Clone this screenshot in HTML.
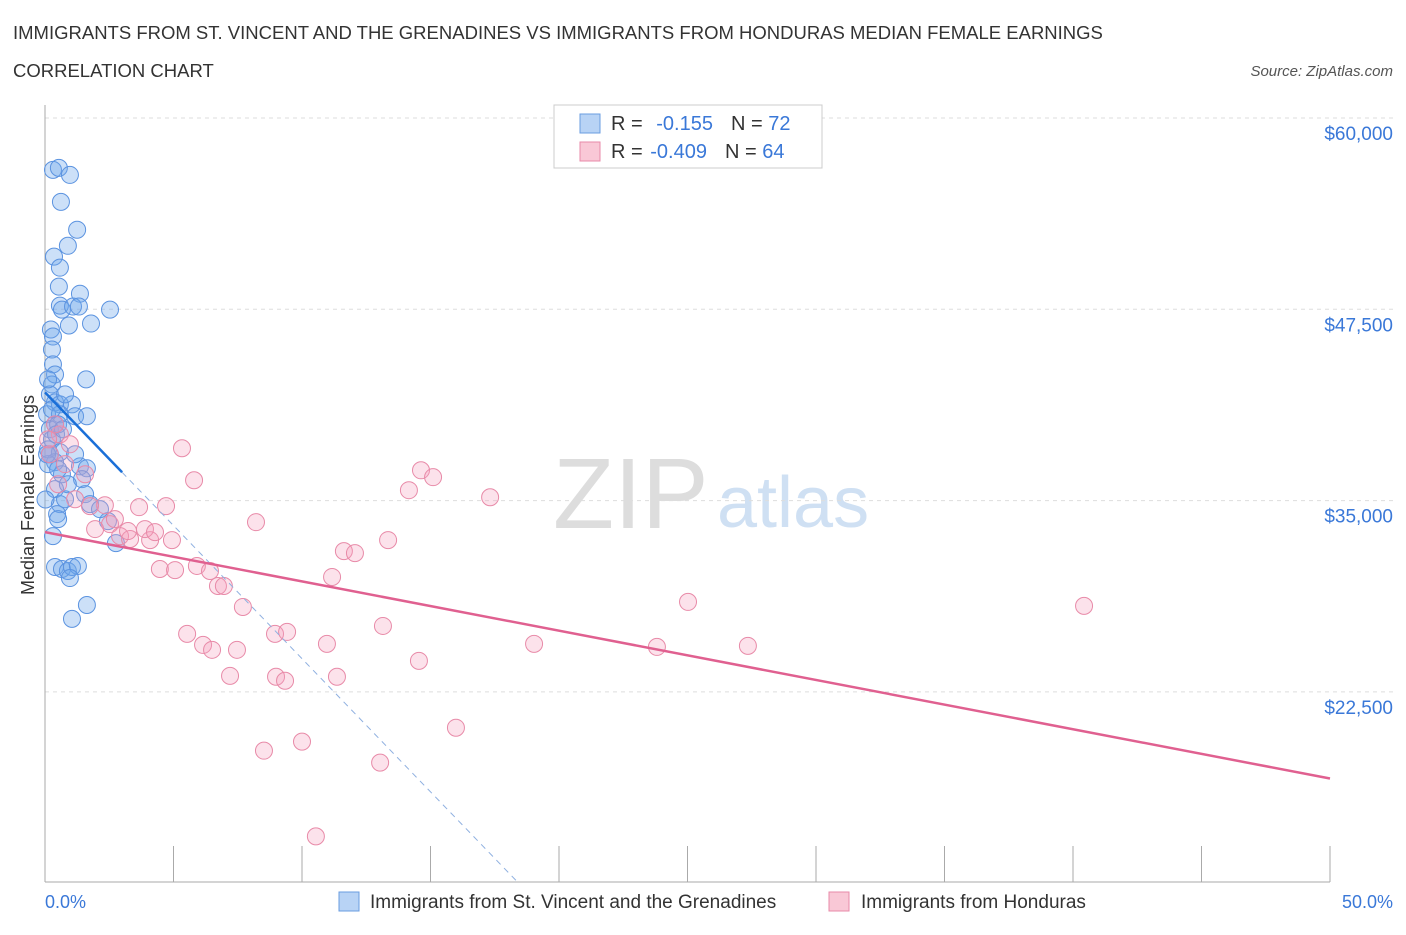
<!DOCTYPE html>
<html><head><meta charset="utf-8"><style>
body{margin:0;background:#fff;font-family:"Liberation Sans",sans-serif}
svg text{font-family:"Liberation Sans",sans-serif}
</style></head><body>
<svg width="1406" height="930" viewBox="0 0 1406 930">
<text x="13" y="39" font-size="18.5" fill="#333">IMMIGRANTS FROM ST. VINCENT AND THE GRENADINES VS IMMIGRANTS FROM HONDURAS MEDIAN FEMALE EARNINGS</text>
<text x="13" y="77" font-size="18.5" fill="#333">CORRELATION CHART</text>
<text x="1393" y="76" font-size="15" fill="#555" text-anchor="end" font-style="italic">Source: ZipAtlas.com</text>
<g>
<text x="553" y="528" font-size="100" fill="#ddd" font-family="Liberation Serif">ZIP</text>
<text x="717" y="527" font-size="72" fill="#cfe0f3">atlas</text>
</g>
<g id="grid"></g>
<g id="axes"></g>
<g id="marks"></g>
<g>
<rect x="554" y="105" width="268" height="63" fill="#fff" stroke="#ccc"/>
<rect x="580" y="114" width="20" height="19" fill="#b8d3f5" stroke="#6a9de0"/>
<text x="611" y="130" font-size="20" fill="#333">R = <tspan fill="#3a78d8" dx="8">-0.155</tspan><tspan dx="18" fill="#333">N = </tspan><tspan fill="#3a78d8">72</tspan></text>
<rect x="580" y="142" width="20" height="19" fill="#f9c8d6" stroke="#e88aa8"/>
<text x="611" y="158" font-size="20" fill="#333">R = <tspan fill="#3a78d8" dx="2">-0.409</tspan><tspan dx="18" fill="#333">N = </tspan><tspan fill="#3a78d8">64</tspan></text>
</g>
<text transform="translate(34,495) rotate(-90)" font-size="18" fill="#333" text-anchor="middle">Median Female Earnings</text>
<text x="45" y="908" font-size="18" fill="#3a78d8">0.0%</text>
<text x="1393" y="908" font-size="18" fill="#3a78d8" text-anchor="end">50.0%</text>
<g>
<rect x="339" y="892" width="20" height="19" fill="#b8d3f5" stroke="#6a9de0"/>
<text x="370" y="908" font-size="19" fill="#333">Immigrants from St. Vincent and the Grenadines</text>
<rect x="829" y="892" width="20" height="19" fill="#f9c8d6" stroke="#e88aa8"/>
<text x="861" y="908" font-size="19" fill="#333">Immigrants from Honduras</text>
</g>
</svg>
<script>
const yTicks=[60000,47500,35000,22500];
const yTickLabels=["$60,000","$47,500","$35,000","$22,500"];
const xTicks=[0,5,10,15,20,25,30,35,40,45,50];
const blueX=[.31,.54,.97,.62,1.25,.89,.35,.58,.54,1.36,.58,.66,1.09,1.32,2.53,.93,1.79,.23,.31,.27,.31,.39,.27,1.6,.19,.39,.58,1.05,.08,.58,1.17,1.63,.39,.19,.27,.12,.58,.39,.66,1.36,1.63,.12,.51,1.44,1.56,.39,.58,.78,1.75,.47,.51,.31,2.45,2.76,.39,.66,.89,1.05,1.28,.97,1.63,1.05,.08,.02,.12,.19,.51,1.17,.89,2.14,.27,.78,.43,.70];
const blueY=[56610,56740,56280,54520,52700,51650,50940,50220,48980,48520,47740,47480,47680,47680,47480,46440,46570,46180,45720,44870,43900,43240,42590,42920,41940,41420,41290,41290,40640,40640,40510,40510,39980,39660,39000,38350,38160,37510,36720,37240,37110,37380,37050,36400,35420,35750,34770,35090,34770,34120,33790,32680,33660,32220,30660,30530,30400,30660,30730,29940,28180,27270,38030,35070,42920,38030,39980,38030,36070,34440,40960,41940,39330,39660];
const pinkX=[5.33,5.80,8.21,4.71,3.66,2.33,1.75,2.53,2.92,3.31,4.09,3.89,4.94,4.47,5.06,5.91,6.42,6.73,6.96,7.70,5.53,6.15,6.50,7.47,7.20,8.95,9.42,8.99,9.34,10.97,11.36,8.52,10.0,10.54,11.63,12.06,11.17,13.35,13.15,14.55,13.04,14.16,14.63,15.10,17.32,15.99,19.03,23.81,25.02,27.35,40.43,.58,.78,1.17,1.56,.39,.97,.19,1.95,2.72,3.23,4.28,.51,.12];
const pinkY=[38420,36330,33590,34640,34570,34700,34640,33460,32680,32490,32420,33140,32420,30530,30460,30730,30400,29420,29420,28050,26290,25570,25250,25250,23550,26290,26420,23490,23230,25640,23490,18660,19250,13060,31700,31570,30010,32420,26810,24530,17880,35680,36980,36530,35220,20160,25640,25440,28380,25510,28120,39330,37380,35090,36720,39980,38680,38030,33140,33790,33010,32940,36070,39000];
const blueTrend=[42070,-1740];
const pinkTrend=[32940,-322];
const NS="http://www.w3.org/2000/svg";
const X0=45,X1=1330,Ytop=118,Ybot=882;
function sx(p){return X0+(X1-X0)*p/50;}
function sy(v){return Ytop+(60000-v)/12500*191.3;}
function mk(t,a,parent){const e=document.createElementNS(NS,t);for(const k in a)e.setAttribute(k,a[k]);parent.appendChild(e);return e;}
const grid=document.getElementById('grid'),axes=document.getElementById('axes'),marks=document.getElementById('marks');
yTicks.forEach((v,i)=>{
 const l=mk('line',{x1:X0,x2:1393,y1:sy(v),y2:sy(v),stroke:'#ddd','stroke-dasharray':'4,4'},grid);
 
 
 const t=mk('text',{x:1393,y:sy(v)+22,'font-size':19,fill:'#3a78d8','text-anchor':'end'},axes);
 t.textContent=yTickLabels[i];
 
 
});
const ya=mk('line',{x1:X0,x2:X0,y1:105,y2:Ybot,stroke:'#aaa'},axes);


const xa=mk('line',{x1:X0,x2:X1,y1:Ybot,y2:Ybot,stroke:'#aaa'},axes);


xTicks.forEach(p=>{
 const t=mk('line',{x1:sx(p),x2:sx(p),y1:846,y2:Ybot,stroke:'#aaa'},axes);
 
 
});
blueX.forEach((x,i)=>{
 const c=mk('circle',{cx:sx(x),cy:sy(blueY[i]),r:8.5,fill:'rgba(110,165,235,0.35)',stroke:'#5b93e0','stroke-width':1},marks);
 
 
});
pinkX.forEach((x,i)=>{
 const c=mk('circle',{cx:sx(x),cy:sy(pinkY[i]),r:8.5,fill:'rgba(245,160,190,0.3)',stroke:'#e88aa8','stroke-width':1},marks);
 
 
});
const bx0=0,bx1=3.0;
const bl=mk('line',{x1:sx(bx0),y1:sy(blueTrend[0]),x2:sx(bx1),y2:sy(blueTrend[0]+blueTrend[1]*bx1),stroke:'#1a6fd8','stroke-width':2.5},marks);


const bxEnd=(blueTrend[0]-10110)/(-blueTrend[1]);
const bd=mk('line',{x1:sx(bx1),y1:sy(blueTrend[0]+blueTrend[1]*bx1),x2:sx(bxEnd),y2:sy(blueTrend[0]+blueTrend[1]*bxEnd),stroke:'#8fb0e0','stroke-width':1,'stroke-dasharray':'6,5'},marks);


const pl=mk('line',{x1:sx(0),y1:sy(pinkTrend[0]),x2:sx(50),y2:sy(pinkTrend[0]+pinkTrend[1]*50),stroke:'#e06090','stroke-width':2.5},marks);


</script>
</body></html>
